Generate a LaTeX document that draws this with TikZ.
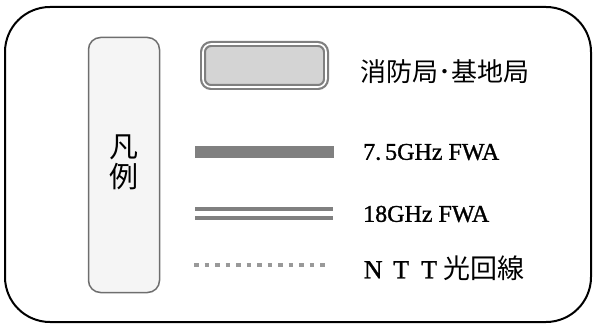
\documentclass[tikz,border=0pt]{standalone}
\usepackage{fontspec}
\setmainfont{Liberation Serif}
\newfontfamily\jpfont{Noto Sans CJK JP}
\newfontfamily\latinfont[FakeBold=1.2]{Liberation Serif}
\definecolor{linegray}{HTML}{808080}
\definecolor{dotgray}{HTML}{999999}
\definecolor{tagfill}{HTML}{F5F5F5}
\definecolor{tagedge}{HTML}{6E6E6E}
\definecolor{boxfill}{HTML}{D4D4D4}
\tikzset{
  legtag/.style={draw=tagedge, line width=1.5pt, fill=tagfill, rounded corners=12pt,
    minimum width=71pt, minimum height=255pt},
  tagtext/.style={align=center, inner sep=0pt, font=\jpfont\fontsize{29}{30}\selectfont},
  stationbox/.style={draw=linegray, line width=2.2pt, double=white, double distance=1.6pt,
    fill=boxfill, rounded corners=8pt, minimum width=123pt, minimum height=43pt},
  legtext/.style={anchor=west, inner sep=0pt},
  latintext/.style={font=\latinfont\fontsize{24}{26}\selectfont},
  jptext/.style={font=\jpfont\fontsize{26}{28}\selectfont}
}
\newcommand{\fwchar}[1]{\makebox[28pt]{\latinfont\fontsize{26}{28}\selectfont #1}}
\begin{document}
\begin{tikzpicture}[x=1pt,y=-1pt]
  \useasboundingbox (0,0) rectangle (596,326);
  \draw[line width=2pt, rounded corners=45pt] (5,7) rectangle (591,322);
  \node[legtag] (tag) at (124,165) {};
  \node[tagtext] (tagname) at (124,162) {凡\\例};
  \node[stationbox] (station) at (264.5,65.5) {};
  \coordinate (fwa7a) at (195,152);
  \coordinate (fwa7b) at (334,152);
  \coordinate (fwa18a) at (195,213.5);
  \coordinate (fwa18b) at (333,213.5);
  \coordinate (ntta) at (194,265);
  \coordinate (nttb) at (330,265);
  \draw[linegray, line width=12pt] (fwa7a) -- (fwa7b);
  \draw[linegray, line width=4pt, double=white, double distance=5pt] (fwa18a) -- (fwa18b);
  \draw[dotgray, line width=4.5pt, dash pattern=on 4.5pt off 6pt] (ntta) -- (nttb);
  \node[legtext, jptext] (stationlbl) at (360,72) {消防局･基地局};
  \node[legtext, latintext] (fwa7lbl) at (363,152) {7.\,5GHz FWA};
  \node[legtext, latintext] (fwa18lbl) at (363,214) {18GHz FWA};
  \node[legtext, jptext] (nttlbl) at (359,268) {\fwchar{N}\fwchar{T}\fwchar{T}\fontsize{27}{30}\selectfont 光回線};
\end{tikzpicture}
\end{document}
